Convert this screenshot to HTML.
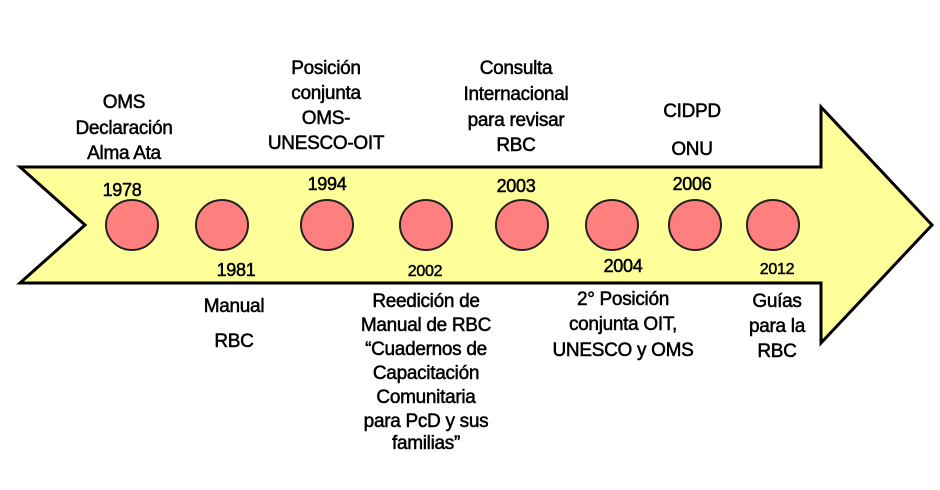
<!DOCTYPE html>
<html><head><meta charset="utf-8"><style>
html,body{margin:0;padding:0;background:#fff;}
svg{display:block;}
text{font-family:"Liberation Sans",sans-serif;font-size:19px;fill:#000;stroke:#000;stroke-width:0.5;text-anchor:middle;letter-spacing:-0.3px;}
.y{font-size:18px;}
</style></head><body>
<svg width="940" height="490" viewBox="0 0 940 490">
<polygon points="20,167 821,167 821,107 932,225 821,343 821,283 20,283 85,225" fill="#ffff99" stroke="#000" stroke-width="3" stroke-linejoin="miter"/>
<g fill="#ff7f7f" stroke="#222" stroke-width="2">
<ellipse cx="132" cy="225" rx="26" ry="25"/>
<ellipse cx="222" cy="225" rx="26" ry="25"/>
<ellipse cx="327" cy="225" rx="26" ry="25"/>
<ellipse cx="426" cy="225" rx="26" ry="25"/>
<ellipse cx="522" cy="225" rx="26" ry="25"/>
<ellipse cx="612" cy="225" rx="26" ry="25"/>
<ellipse cx="695" cy="225" rx="26" ry="25"/>
<ellipse cx="773" cy="225" rx="26" ry="25"/>
</g>
<text x="124" y="108">OMS</text>
<text x="124" y="134">Declaración</text>
<text x="124" y="159">Alma Ata</text>
<text class="y" x="122" y="196">1978</text>
<text class="y" x="236" y="276">1981</text>
<text x="234" y="312">Manual</text>
<text x="234" y="347">RBC</text>
<text x="326" y="74">Posición</text>
<text x="326" y="99">conjunta</text>
<text x="326" y="124">OMS-</text>
<text x="326" y="149">UNESCO-OIT</text>
<text class="y" x="327" y="190">1994</text>
<text class="y" x="425" y="276" style="font-size:16px">2002</text>
<text x="426" y="307">Reedición de</text>
<text x="426" y="331">Manual  de RBC</text>
<text x="426" y="355">“Cuadernos de</text>
<text x="426" y="379">Capacitación</text>
<text x="426" y="403">Comunitaria</text>
<text x="426" y="427">para PcD y sus</text>
<text x="426" y="449">familias”</text>
<text x="516" y="74">Consulta</text>
<text x="516" y="100">Internacional</text>
<text x="516" y="126">para revisar</text>
<text x="516" y="151">RBC</text>
<text class="y" x="516" y="192">2003</text>
<text class="y" x="623" y="272">2004</text>
<text x="623" y="305">2° Posición</text>
<text x="623" y="330">conjunta OIT,</text>
<text x="623" y="356">UNESCO y OMS</text>
<text x="692" y="117">CIDPD</text>
<text x="692" y="155">ONU</text>
<text class="y" x="692" y="190">2006</text>
<text class="y" x="777" y="274" style="font-size:16px">2012</text>
<text x="777" y="307">Guías</text>
<text x="777" y="332">para la</text>
<text x="777" y="357">RBC</text>
</svg>
</body></html>
